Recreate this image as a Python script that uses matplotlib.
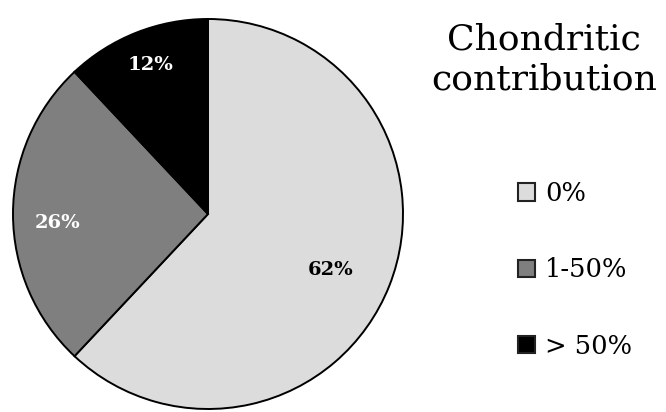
import numpy as np
import matplotlib.pyplot as plt
from matplotlib.patches import Patch

categories = ["0%", "1-50%", "> 50%"]
shares = [62, 26, 12]
share_labels = ["62%", "26%", "12%"]
colors = ["#dcdcdc", "#7f7f7f", "#000000"]
label_colors = ["black", "white", "white"]
label_radius = [0.69, 0.775, 0.82]
label_shift = [-3, 3.4, -0.6]   # degrees, nudges off the wedge middle

plt.rcParams['font.family'] = ['DejaVu Serif']

W, H = 666, 412
fig = plt.figure(figsize=(W / 100, H / 100), dpi=100)
ax = fig.add_axes([13 / W, 3 / H, 390 / W, 390 / H])

wedges, _ = ax.pie(shares, colors=colors, startangle=90, counterclock=False,
                   wedgeprops=dict(edgecolor="black", linewidth=1.4))

for w, lab, c, r, s in zip(wedges, share_labels, label_colors, label_radius, label_shift):
    ang = np.deg2rad((w.theta1 + w.theta2) / 2 + s)
    ax.text(r * np.cos(ang), r * np.sin(ang), lab, color=c, fontsize=14,
            fontweight="bold", ha="center", va="center")
ax.set_xlim(-1, 1)
ax.set_ylim(-1, 1)
ax.set_aspect("equal")
ax.axis("off")

fig.text(544 / W, (H - 50) / H, "Chondritic", fontsize=26, ha="center", va="baseline")
fig.text(544 / W, (H - 90) / H, "contribution", fontsize=26, ha="center", va="baseline")

handles = [Patch(facecolor=c, edgecolor="#222222", linewidth=1.5) for c in colors]
fig.legend(handles, categories, loc="upper left", bbox_to_anchor=(518 / W, (H - 181) / H),
           frameon=False, fontsize=18.5, handlelength=0.65, handleheight=0.65,
           handletextpad=0.4, labelspacing=2.0, borderpad=0, borderaxespad=0)

fig.savefig("out.png", dpi=100)
